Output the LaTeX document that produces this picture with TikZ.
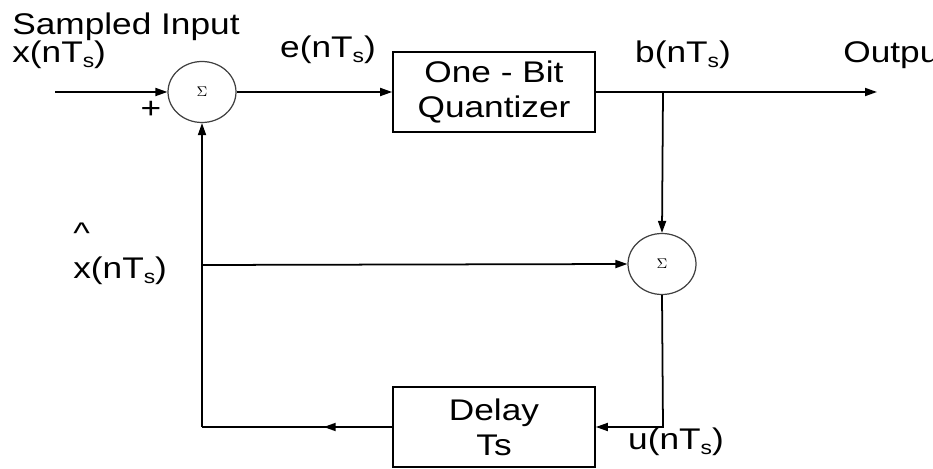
\documentclass[tikz,border=0pt]{standalone}
\usepackage{fontspec}
\setmainfont{Liberation Sans}[FakeStretch=1.18]
\usetikzlibrary{arrows.meta,shapes.geometric,decorations.markings}
\newcommand{\nTs}{nT\raisebox{-0.3ex}{\fontsize{11}{11}\selectfont s}}
\tikzset{
  sumnode/.style={ellipse,draw=black!75,line width=0.7pt,minimum width=1.36cm,minimum height=1.22cm,inner sep=0pt,font=\fontsize{8}{8}\selectfont},
  blockbox/.style={rectangle,draw,line width=1pt,minimum width=4.04cm,minimum height=1.6cm,align=center,font=\fontsize{17}{20}\selectfont},
  lbl/.style={font=\fontsize{17}{20}\selectfont,inner sep=0pt},
  sig/.style={line width=1pt,-{Triangle[length=0.24cm,width=0.16cm]}},
  midarrow/.style={line width=1pt,decoration={markings,mark=at position 0.36 with {\arrow{Triangle[length=0.24cm,width=0.16cm]}}},postaction={decorate}}
}
\begin{document}
\begin{tikzpicture}[x=0.02cm,y=-0.02cm]
            \useasboundingbox (0,0) rectangle (933,469);
            % blocks
            \node[sumnode] (sum1) at (202,92) {$\Sigma$};
            \node[sumnode] (sum2) at (662,264) {$\Sigma$};
            \node[blockbox] (quant) at (494,92) {One - Bit\\Quantizer};
            \node[blockbox] (delay) at (494,427) {Delay\\Ts};
            % points
            \coordinate (in) at (55,92);
            \coordinate (out) at (877,92);
            \coordinate (br) at (663,92);
            \coordinate (fb) at (202,265);
            \coordinate (bl) at (202,427);
            \coordinate (br2) at (663,427);
            % labels
            \node[lbl,anchor=west] (title) at (12,27) {Sampled Input};
            \node[lbl,anchor=west] (xin) at (12,55) {x(\nTs)};
            \node[lbl] (plus) at (151,110) {+};
            \node[lbl] (elbl) at (328,50) {e(\nTs)};
            \node[lbl] (blbl) at (683,55) {b(\nTs)};
            \node[lbl,anchor=west] (olbl) at (843,55) {Output};
            \node[lbl,anchor=west,align=left] (xhat) at (73,254) {\textasciicircum\\x(\nTs)};
            \node[lbl] (ulbl) at (676,442) {u(\nTs)};
            % connectors
            \draw[sig] (in) -- (sum1.west);
            \draw[sig] (sum1.east) -- (quant.west);
            \draw[sig] (quant.east) -- (out);
            \draw[sig] (br) -- (sum2.north);
            \draw[sig] (fb) -- (sum2.west);
            \draw[sig] (sum2.south) -- (br2) -- (delay.east);
            \draw[midarrow] (delay.west) -- (bl);
            \draw[sig] (bl) -- (sum1.south);
        \end{tikzpicture}
\end{document}
